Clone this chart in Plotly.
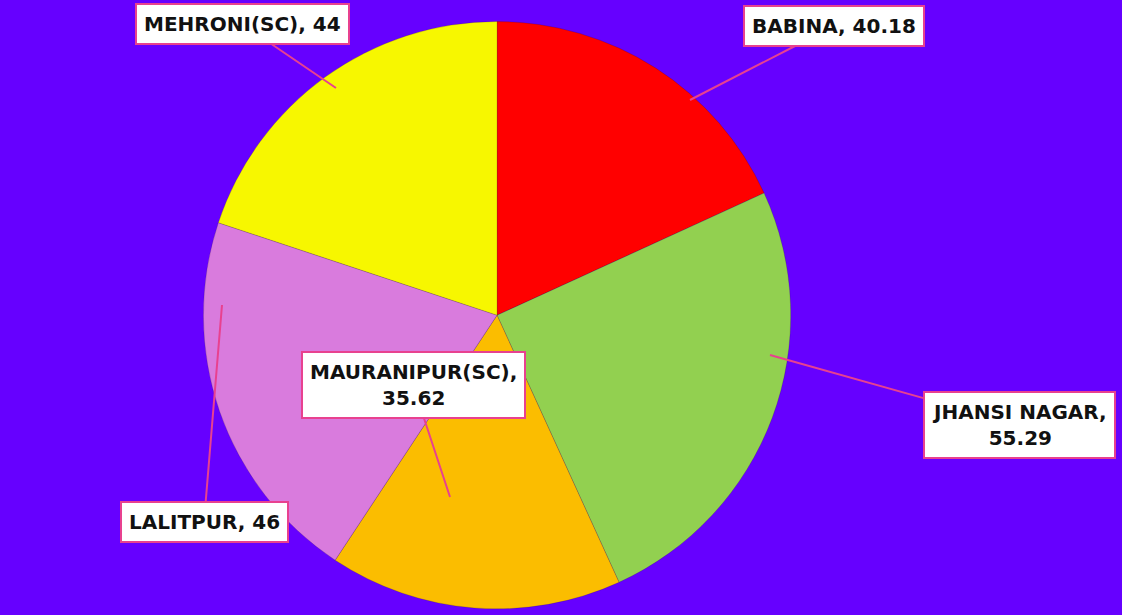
import plotly.graph_objects as go

# Data
constituencies = ["BABINA", "JHANSI NAGAR", "MAURANIPUR(SC)", "LALITPUR", "MEHRONI(SC)"]
values = [40.18, 55.29, 35.62, 46, 44]
slice_colors = ["#FF0000", "#92D050", "#FBBD00", "#D97BDD", "#F7F700"]
label_texts = ["BABINA, 40.18", "JHANSI NAGAR,<br>55.29", "MAURANIPUR(SC),<br>35.62",
               "LALITPUR, 46", "MEHRONI(SC), 44"]

W, H = 1122, 615
BG = "#6600FF"

fig = go.Figure(go.Pie(
    labels=constituencies,
    values=values,
    sort=False,
    direction="clockwise",
    rotation=0,
    marker=dict(colors=slice_colors, line=dict(color="rgba(0,0,0,0.15)", width=1)),
    textinfo="none",
    hoverinfo="label+value",
    showlegend=False,
    domain=dict(x=[0.0, 0.886], y=[0.01, 0.965]),
))

# label placement: (tip pixel, box centre pixel)
placements = {
    "BABINA": ((690, 100), (834, 26)),
    "JHANSI NAGAR": ((770, 355), (1019, 425)),
    "MAURANIPUR(SC)": ((450, 497), (413, 385)),
    "LALITPUR": ((222, 305), (204, 522)),
    "MEHRONI(SC)": ((336, 88), (242, 24)),
}

annotations = []
for name, txt in zip(constituencies, label_texts):
    (tx, ty), (bx, by) = placements[name]
    annotations.append(dict(
        x=tx / W, y=1 - ty / H, xref="paper", yref="paper",
        ax=bx - tx, ay=by - ty, axref="pixel", ayref="pixel",
        text=f"<b>{txt}</b>",
        showarrow=True, arrowhead=0, arrowwidth=2, arrowcolor="#E8418F",
        font=dict(family="DejaVu Sans", size=20, color="#111111"),
        bgcolor="white", bordercolor="#E8418F", borderwidth=2, borderpad=7,
        align="center",
    ))

fig.update_layout(
    width=W, height=H,
    paper_bgcolor=BG, plot_bgcolor=BG,
    margin=dict(l=0, r=0, t=0, b=0),
    annotations=annotations,
)

fig.write_html(
    "out.html",
    config={"displayModeBar": False},
    post_script="document.body.style.margin='0';document.body.style.background='#6600FF';",
)
